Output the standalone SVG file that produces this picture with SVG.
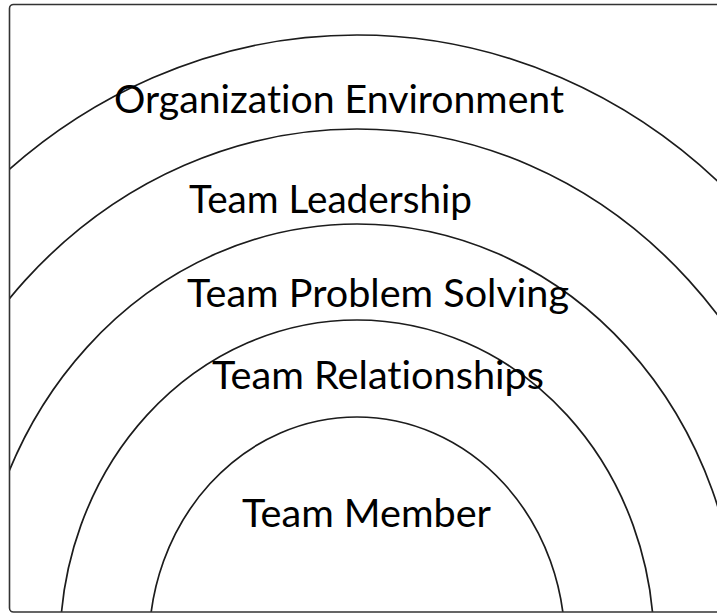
<svg xmlns="http://www.w3.org/2000/svg" width="717" height="613" viewBox="0 0 717 613">
  <style>
    .ring { fill: none; stroke: #1c1c1c; stroke-width: 1.7; }
    .label { font-family: Lato, "Open Sans", "Liberation Sans", sans-serif; font-size: 39px; fill: #000; font-variant-ligatures: none; }
    .frame { fill: none; stroke: #333; stroke-width: 1.6; }
  </style>
  <defs>
    <!-- rings are trimmed to the inside of the outer frame -->
    <clipPath id="frameClip">
      <rect x="9.5" y="4.5" width="720" height="607.5" rx="4"/>
    </clipPath>
  </defs>

  <rect width="717" height="613" fill="#fff"/>

  <!-- concentric layers, all centred below the bottom edge -->
  <g clip-path="url(#frameClip)">
    <g id="organization-environment">
      <ellipse class="ring" cx="357" cy="645" rx="555" ry="610"/>
      <text class="label" x="114" y="113" textLength="450" lengthAdjust="spacingAndGlyphs">Organization Environment</text>
    </g>
    <g id="team-leadership">
      <ellipse class="ring" cx="357" cy="645" rx="469" ry="516"/>
      <text class="label" x="189" y="213" textLength="283" lengthAdjust="spacingAndGlyphs">Team Leadership</text>
    </g>
    <g id="team-problem-solving">
      <ellipse class="ring" cx="357" cy="645" rx="382" ry="421"/>
      <text class="label" x="187" y="307" textLength="382" lengthAdjust="spacingAndGlyphs">Team Problem Solving</text>
    </g>
    <g id="team-relationships">
      <ellipse class="ring" cx="357" cy="645" rx="297" ry="325"/>
      <text class="label" x="212" y="389" textLength="332" lengthAdjust="spacingAndGlyphs">Team Relationships</text>
    </g>
    <g id="team-member">
      <ellipse class="ring" cx="357" cy="645" rx="208" ry="228"/>
      <text class="label" x="242" y="527" textLength="249" lengthAdjust="spacingAndGlyphs">Team Member</text>
    </g>
  </g>

  <!-- outer frame -->
  <rect class="frame" x="9.5" y="4.5" width="720" height="607.5" rx="4"/>
</svg>
